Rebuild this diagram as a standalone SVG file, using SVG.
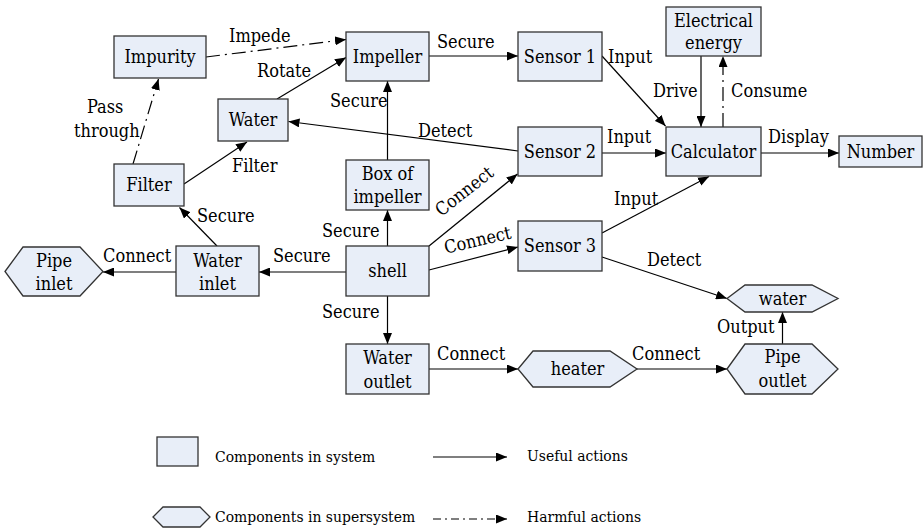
<svg xmlns="http://www.w3.org/2000/svg" width="923" height="529" viewBox="0 0 923 529">
  <defs>
    <style>
      .box { fill: #e8eef8; stroke: #333; stroke-width: 1.3; }
      .t { font-family: "DejaVu Serif", serif; font-stretch: condensed; font-size: 18px; fill: #000; }
      .node { text-anchor: middle; }
      .lg { font-size: 15.5px; }
      .c { text-anchor: middle; }
      .edge { fill: none; stroke: #000; stroke-width: 1.2; marker-end: url(#arr); }
      .harm { stroke-dasharray: 14 5 2 5; }
    </style>
    <marker id="arr" viewBox="0 0 11 9" refX="11" refY="4.5" markerWidth="11" markerHeight="9" orient="auto" markerUnits="userSpaceOnUse">
      <path d="M0,0 L11,4.5 L0,9 z" fill="#000"/>
    </marker>
  </defs>

  <!-- connectors -->
  <g id="connectors">
    <path class="edge harm" d="M206,57 L346,39.5"/>
    <path class="edge" d="M277,99 L346,57.5"/>
    <path class="edge" d="M429,56 L518,56"/>
    <path class="edge" d="M387.5,160 L387.5,81"/>
    <path class="edge" d="M518,151 L288.5,121.5"/>
    <path class="edge harm" d="M133,164 L158.5,79"/>
    <path class="edge" d="M184,184 L247,142"/>
    <path class="edge" d="M602,56 L665.5,126"/>
    <path class="edge" d="M701,56 L701,127"/>
    <path class="edge harm" d="M723,127 L723,56"/>
    <path class="edge" d="M602,153 L666,153"/>
    <path class="edge" d="M761,153 L839,153"/>
    <path class="edge" d="M602,233 L709,176.5"/>
    <path class="edge" d="M217,246 L179.5,207.5"/>
    <path class="edge" d="M387.5,246 L387.5,210"/>
    <path class="edge" d="M346,272 L259,272"/>
    <path class="edge" d="M176,272 L103,272"/>
    <path class="edge" d="M429,246 L517.5,174"/>
    <path class="edge" d="M429,270 L518,247"/>
    <path class="edge" d="M387.5,296 L387.5,344"/>
    <path class="edge" d="M602,257 L727,298.5"/>
    <path class="edge" d="M782.5,344 L782.5,312"/>
    <path class="edge" d="M429,369 L518,369"/>
    <path class="edge" d="M637,369 L727,369"/>
  </g>

  <!-- connector labels -->
  <g id="edge-labels" class="t">
    <text x="229" y="42">Impede</text>
    <text x="437" y="48">Secure</text>
    <text x="257" y="77">Rotate</text>
    <text x="330" y="107">Secure</text>
    <text x="87" y="113">Pass</text>
    <text x="74" y="137">through</text>
    <text x="232" y="172">Filter</text>
    <text x="418" y="137">Detect</text>
    <text x="608" y="63">Input</text>
    <text x="653" y="97">Drive</text>
    <text x="731" y="97">Consume</text>
    <text x="607" y="143">Input</text>
    <text x="768" y="143">Display</text>
    <text x="614" y="205">Input</text>
    <text x="197" y="222">Secure</text>
    <text x="322" y="237">Secure</text>
    <text class="c" transform="translate(468,196) rotate(-38)">Connect</text>
    <text class="c" transform="translate(479,246) rotate(-13)">Connect</text>
    <text x="273" y="262">Secure</text>
    <text x="103" y="262">Connect</text>
    <text x="647" y="266">Detect</text>
    <text x="322" y="318">Secure</text>
    <text x="717" y="333">Output</text>
    <text x="437" y="360">Connect</text>
    <text x="632" y="360">Connect</text>
  </g>

  <!-- components in system -->
  <g id="impurity"><rect class="box" x="114" y="36" width="92" height="42"/><text class="t node" x="160" y="63">Impurity</text></g>
  <g id="impeller"><rect class="box" x="346" y="32" width="83" height="49"/><text class="t node" x="387.5" y="63">Impeller</text></g>
  <g id="water"><rect class="box" x="218" y="99" width="70" height="42"/><text class="t node" x="253" y="126">Water</text></g>
  <g id="filter"><rect class="box" x="114" y="164" width="70" height="42"/><text class="t node" x="149" y="191">Filter</text></g>
  <g id="box-of-impeller"><rect class="box" x="346" y="160" width="83" height="50"/><text class="t node" x="387.5" y="180">Box of</text><text class="t node" x="387.5" y="203">impeller</text></g>
  <g id="sensor-1"><rect class="box" x="518" y="32" width="84" height="49"/><text class="t node" x="560" y="63">Sensor 1</text></g>
  <g id="electrical-energy"><rect class="box" x="666" y="7" width="95" height="49"/><text class="t node" x="713.5" y="27">Electrical</text><text class="t node" x="713.5" y="49">energy</text></g>
  <g id="sensor-2"><rect class="box" x="518" y="127" width="84" height="49"/><text class="t node" x="560" y="158">Sensor 2</text></g>
  <g id="calculator"><rect class="box" x="666" y="127" width="95" height="49"/><text class="t node" x="713.5" y="158">Calculator</text></g>
  <g id="number"><rect class="box" x="839" y="136" width="83" height="31"/><text class="t node" x="880.5" y="158">Number</text></g>
  <g id="water-inlet"><rect class="box" x="176" y="246" width="83" height="50"/><text class="t node" x="217.5" y="267">Water</text><text class="t node" x="217.5" y="290">inlet</text></g>
  <g id="shell"><rect class="box" x="346" y="246" width="83" height="50"/><text class="t node" x="387.5" y="277">shell</text></g>
  <g id="sensor-3"><rect class="box" x="518" y="221" width="84" height="50"/><text class="t node" x="560" y="252">Sensor 3</text></g>
  <g id="water-outlet"><rect class="box" x="346" y="344" width="83" height="50"/><text class="t node" x="387.5" y="364">Water</text><text class="t node" x="387.5" y="388">outlet</text></g>

  <!-- components in supersystem -->
  <g id="pipe-inlet"><polygon class="box" points="5,271.5 23,247 80,247 103,271.5 80,296 23,296"/><text class="t node" x="54" y="267">Pipe</text><text class="t node" x="54" y="290">inlet</text></g>
  <g id="water-out"><polygon class="box" points="727,298.5 745,285 812,285 838,298.5 812,312 745,312"/><text class="t node" x="782.5" y="305">water</text></g>
  <g id="pipe-outlet"><polygon class="box" points="727,369 745,344 812,344 838,369 812,394 745,394"/><text class="t node" x="782.5" y="363">Pipe</text><text class="t node" x="782.5" y="387">outlet</text></g>
  <g id="heater"><polygon class="box" points="518,369 533,351 610,351 637,369 610,387 533,387"/><text class="t node" x="577.5" y="375">heater</text></g>

  <!-- legend -->
  <g id="legend">
    <rect class="box" x="157" y="437" width="41" height="29"/>
    <text class="t lg" x="215" y="462">Components in system</text>
    <path class="edge" d="M433,457 L507,457"/>
    <text class="t lg" x="527" y="461">Useful actions</text>
    <polygon class="box" points="153,517 163,507 200,507 210,517 200,527 163,527"/>
    <text class="t lg" x="215" y="522">Components in supersystem</text>
    <path class="edge" d="M433,519 L507,519" style="stroke-dasharray: 8 4 2 4"/>
    <text class="t lg" x="527" y="522">Harmful actions</text>
  </g>
</svg>
